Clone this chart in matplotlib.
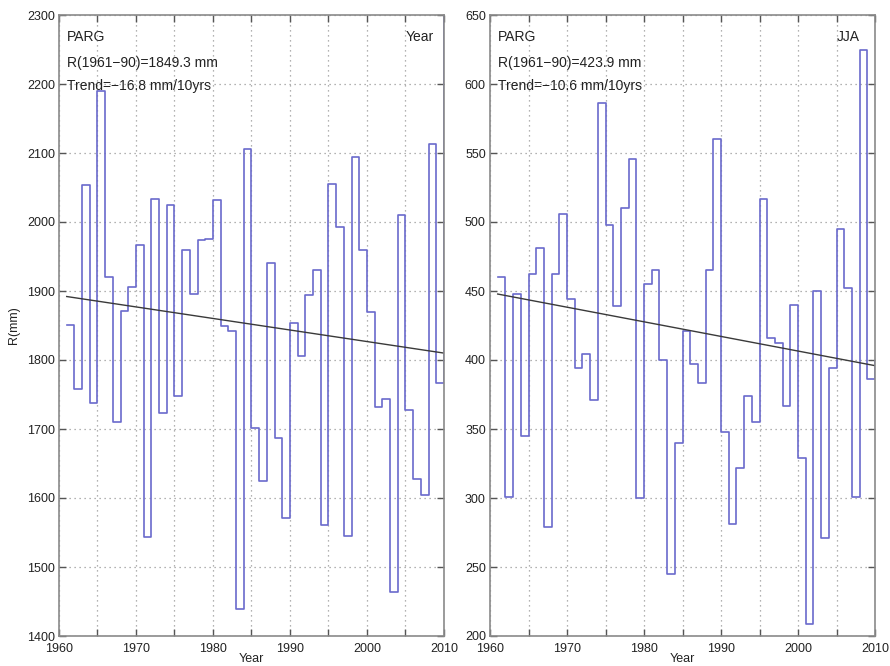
import numpy as np
import matplotlib.pyplot as plt

plt.rcParams["font.family"] = ["Liberation Sans", "DejaVu Sans"]

# years 1961-2010, values drawn as MATLAB-style stairs
years = np.arange(1961, 2011)

annual_mm = [
    1851, 1758, 2054, 1738, 2190, 1921, 1710, 1871, 1906, 1966,
    1543, 2034, 1723, 2024, 1748, 1959, 1896, 1974, 1976, 2032,
    1850, 1842, 1439, 2106, 1702, 1624, 1940, 1687, 1571, 1853,
    1806, 1894, 1931, 1561, 2055, 1993, 1545, 2094, 1959, 1870,
    1732, 1744, 1464, 2010, 1728, 1628, 1604, 2113, 1766, 2330,
]

jja_mm = [
    460, 301, 448, 345, 462, 481, 279, 462, 506, 444,
    394, 404, 371, 586, 498, 439, 510, 546, 300, 455,
    465, 400, 245, 340, 421, 397, 383, 465, 560, 348,
    281, 322, 374, 355, 517, 416, 412, 367, 440, 329,
    209, 450, 271, 394, 495, 452, 301, 625, 386, 399,
]

# trend line end points (1961, 2010)
annual_trend = [1892, 1810]
jja_trend = [447.8, 395.9]

panels = [
    dict(vals=annual_mm, trend=annual_trend, ylim=(1400, 2300), ystep=100,
         season="Year", mean="R(1961\u221290)=1849.3 mm",
         slope="Trend=\u221216.8 mm/10yrs", left=59),
    dict(vals=jja_mm, trend=jja_trend, ylim=(200, 650), ystep=50,
         season="JJA", mean="R(1961\u221290)=423.9 mm",
         slope="Trend=\u221210.6 mm/10yrs", left=490),
]

W, H = 890, 666
fig = plt.figure(figsize=(W / 100, H / 100), dpi=100)

line_col = "#6a6acc"
spine_col = "#8a8a8a"
txt_col = "#222222"

for i, p in enumerate(panels):
    ax = fig.add_axes([p["left"] / W, 30 / H, 385 / W, 621 / H])
    ax.step(years, p["vals"], where="post", color=line_col, lw=1.2)
    ax.plot([years[0], years[-1]], p["trend"], color="#3a3a3a", lw=1.0)

    ax.set_xlim(1960, 2010)
    ax.set_ylim(*p["ylim"])
    ax.set_xticks(np.arange(1960, 2011, 5))
    ax.set_xticklabels([str(y) if y % 10 == 0 else "" for y in range(1960, 2011, 5)])
    ax.set_yticks(np.arange(p["ylim"][0], p["ylim"][1] + 1, p["ystep"]))

    ax.grid(True, linestyle=(0, (1, 3)), color="#999999", lw=0.9)
    ax.tick_params(direction="in", length=5, width=1, top=True, right=True,
                   labelsize=9, labelcolor=txt_col, pad=3)
    ax.tick_params(axis="x", pad=5)
    ax.tick_params(color="#555555")
    for s in ax.spines.values():
        s.set_color(spine_col)
        s.set_linewidth(1.2)

    ax.set_xlabel("Year", fontsize=9, labelpad=-1.5, color=txt_col)
    if i == 0:
        ax.set_ylabel("R(mm)", fontsize=9, labelpad=5, color=txt_col)

    tx = 0.021
    kw = dict(transform=ax.transAxes, fontsize=10, va="center", ha="left",
              color=txt_col)
    ax.text(tx, 0.965, "PARG", **kw)
    ax.text(tx, 0.923, p["mean"], **kw)
    ax.text(tx, 0.885, p["slope"], **kw)
    ax.text(0.90, 0.965, p["season"], **kw)

fig.savefig("out.png", dpi=100)
